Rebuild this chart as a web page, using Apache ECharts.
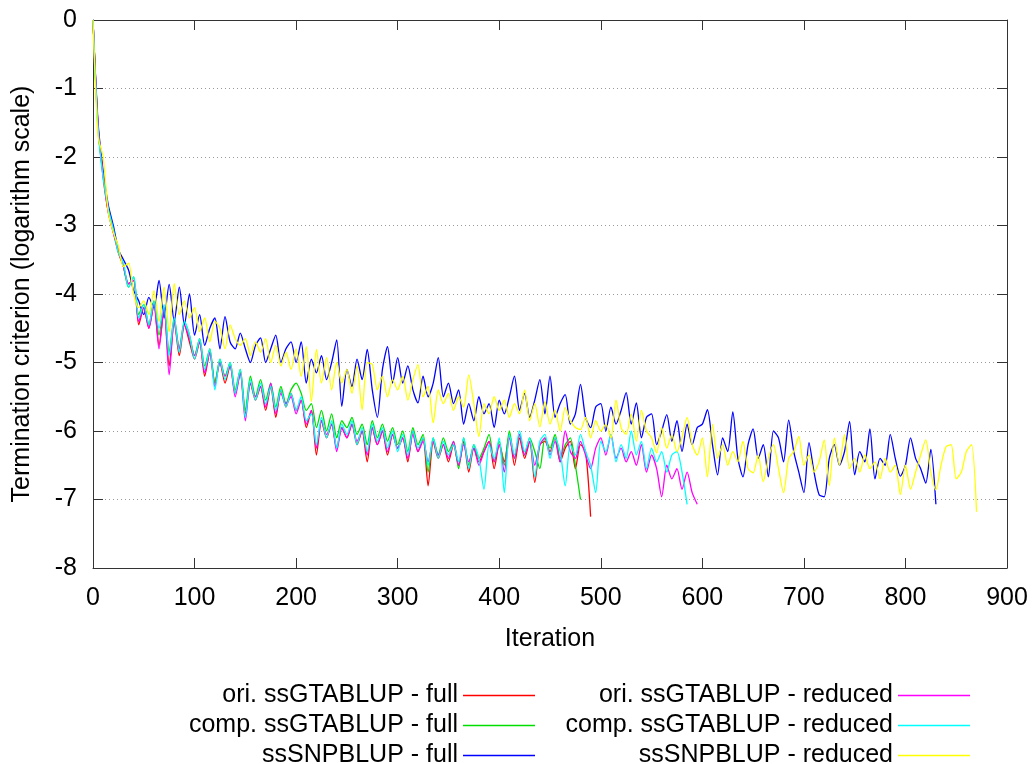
<!DOCTYPE html>
<html>
<head>
<meta charset="utf-8">
<title>Termination criterion</title>
<script src="https://cdn.jsdelivr.net/npm/echarts/dist/echarts.min.js"></script>
<style>
  html, body { margin: 0; padding: 0; background: #fff; }
  #chart { width: 1035px; height: 764px; }
</style>
</head>
<body>
<div id="chart"></div>
<script>
// iterations are sampled every STEP steps, value i sits at iteration i*STEP
const STEP = 5;

const seriesNames = [
  'ori. ssGTABLUP - full',
  'comp. ssGTABLUP - full',
  'ssSNPBLUP - full',
  'ori. ssGTABLUP - reduced',
  'comp. ssGTABLUP - reduced',
  'ssSNPBLUP - reduced'
];

// log10 of termination criterion
const oriFull = [
  0, -1.55, -2.3, -2.8, -3.1, -3.4, -3.6, -3.85, -3.8, -4.45,
  -4.2, -4.5, -4.15, -4.75, -4.2, -5.05, -4.4, -4.9, -4.45, -4.7,
  -4.95, -4.7, -5.2, -4.85, -5.3, -5.0, -5.3, -5.05, -5.45, -5.15,
  -5.75, -5.3, -5.55, -5.35, -5.7, -5.35, -5.8, -5.4, -5.65, -5.45,
  -5.7, -5.55, -5.95, -5.7, -6.35, -5.85, -6.1, -5.9, -6.25, -5.95,
  -6.1, -5.9, -6.2, -6.0, -6.45, -5.95, -6.2, -6.0, -6.35, -6.05,
  -6.25, -6.1, -6.45, -6.0, -6.3, -6.1, -6.8, -6.15, -6.4, -6.2,
  -6.45, -6.2, -6.5, -6.15, -6.6, -6.25, -6.45, -6.3, -6.15, -6.55,
  -6.2, -6.45, -6.05, -6.5, -6.1, -6.4, -6.15, -6.75, -6.2, -6.15,
  -6.3, -6.1, -6.45, -6.25, -6.15, -6.55, -6.2, -6.3, -7.25
];

const compFull = [
  0, -1.6, -2.25, -2.75, -3.05, -3.35, -3.6, -3.9, -3.75, -4.3,
  -4.15, -4.45, -4.1, -4.6, -4.2, -4.85, -4.35, -4.8, -4.4, -4.6,
  -4.9, -4.65, -5.05, -4.8, -5.3, -4.95, -5.2, -5.0, -5.4, -5.1,
  -5.7, -5.2, -5.5, -5.25, -5.55, -5.3, -5.65, -5.35, -5.6, -5.4,
  -5.3, -5.45, -5.7, -5.6, -5.95, -5.7, -6.0, -5.75, -6.1, -5.85,
  -5.95, -5.8, -6.05, -5.9, -6.2, -5.85, -6.1, -5.9, -6.15, -5.95,
  -6.2, -6.0, -6.3, -5.95, -6.2, -6.05, -6.6, -6.1, -6.35, -6.1,
  -6.3, -6.15, -6.55, -6.1, -6.5, -6.2, -6.4, -6.25, -6.05, -6.45,
  -6.15, -6.5, -6.0, -6.4, -6.05, -6.35, -6.1, -6.3, -6.55, -6.1,
  -6.25, -6.05, -6.4, -6.2, -6.1, -6.5, -7.0
];

const snpFull = [
  0, -1.5, -2.2, -2.7, -3.0, -3.35, -3.5, -3.65, -3.95, -4.1,
  -4.3, -4.05, -4.2, -3.8, -4.35, -3.86, -4.4, -3.9, -4.45, -4.0,
  -4.6, -4.3, -4.75, -4.5, -4.35, -4.8, -4.33, -4.7, -4.8, -4.57,
  -4.8, -5.0, -4.75, -4.64, -5.0, -4.8, -4.6, -5.0, -4.8, -4.7,
  -5.0, -4.7, -5.3, -4.95, -5.15, -4.9, -5.25, -5.0, -4.67, -5.64,
  -5.1, -5.35, -4.95, -5.25, -4.81, -5.4, -5.8, -5.1, -4.77, -5.3,
  -4.93, -5.3, -5.05, -5.4, -5.59, -5.2, -5.5, -5.3, -4.93, -5.5,
  -5.3, -5.6, -5.4, -5.9, -5.6, -5.85, -5.5, -5.75, -5.6, -5.95,
  -5.55, -5.75, -5.5, -5.2, -5.7, -5.45, -5.8, -5.55, -5.25, -5.75,
  -5.2, -5.8, -5.6, -5.47, -5.9, -5.75, -5.32, -5.8, -5.95, -5.65,
  -5.6, -6.0, -5.65, -5.9, -5.7, -5.44, -5.9, -5.59, -6.1, -5.8,
  -5.75, -6.2, -6.0, -5.76, -6.15, -5.85, -6.3, -5.9, -6.2, -5.95,
  -5.9, -5.69, -6.2, -6.64, -6.1, -6.3, -5.72, -6.4, -6.67, -6.2,
  -5.97, -6.4, -6.2, -6.67, -6.0, -6.1, -6.45, -5.84, -6.3, -6.6,
  -6.9, -6.17, -6.6, -6.93, -6.96, -6.4, -6.2, -6.5, -6.3, -5.86,
  -6.64, -6.3, -6.45, -5.97, -6.7, -6.4, -6.5, -6.05, -6.4, -6.66,
  -6.5, -6.1, -6.4, -6.55, -6.76, -6.27, -7.07
];

const oriReduced = [
  0, -1.55, -2.25, -2.8, -3.1, -3.35, -3.6, -3.85, -3.8, -4.4,
  -4.2, -4.5, -4.15, -4.8, -4.2, -5.18, -4.4, -4.8, -4.45, -4.65,
  -4.9, -4.7, -5.15, -4.85, -5.35, -5.0, -5.2, -5.05, -5.5, -5.15,
  -5.85, -5.3, -5.5, -5.35, -5.65, -5.3, -5.75, -5.45, -5.6, -5.5,
  -5.75, -5.55, -5.9, -5.7, -6.25, -5.85, -6.05, -5.9, -6.3, -5.95,
  -6.1, -5.9, -6.15, -6.0, -6.35, -5.95, -6.2, -6.0, -6.3, -6.05,
  -6.25, -6.1, -6.4, -6.05, -6.3, -6.15, -6.45, -6.15, -6.35, -6.2,
  -6.4, -6.15, -6.5, -6.2, -6.45, -6.25, -6.5, -6.3, -6.15, -6.45,
  -6.2, -6.6, -6.1, -6.4, -6.05, -6.35, -6.15, -6.5, -6.2, -6.1,
  -6.35, -6.15, -6.45, -6.0, -6.3, -6.4, -6.15, -6.35, -6.55, -6.25,
  -6.1, -6.35, -6.05, -6.4, -6.25, -6.45, -6.3, -6.5, -6.2, -6.6,
  -6.35, -6.55, -6.96, -6.5, -6.7, -6.55, -6.85, -6.6, -6.9, -7.07
];

const compReduced = [
  0, -1.6, -2.3, -2.75, -3.05, -3.4, -3.55, -3.9, -3.75, -4.35,
  -4.15, -4.45, -4.1, -4.5, -4.15, -4.9, -4.35, -4.85, -4.4, -4.6,
  -4.95, -4.65, -5.1, -4.8, -5.4, -4.95, -5.25, -5.0, -5.45, -5.1,
  -5.8, -5.25, -5.55, -5.3, -5.6, -5.35, -5.7, -5.4, -5.65, -5.45,
  -5.7, -5.5, -5.85, -5.75, -6.2, -5.8, -6.1, -5.85, -6.25, -5.9,
  -6.05, -5.85, -6.2, -5.95, -6.3, -5.9, -6.15, -5.95, -6.25, -6.0,
  -6.3, -6.05, -6.35, -6.0, -6.25, -6.1, -6.5, -6.1, -6.4, -6.15,
  -6.35, -6.2, -6.45, -6.1, -6.55, -6.2, -6.4, -6.85, -6.2, -6.4,
  -6.1, -6.9, -6.05, -6.35, -6.0, -6.3, -6.1, -6.67, -6.15, -6.05,
  -6.4, -6.1, -6.3, -6.8, -6.2, -6.35, -6.05, -6.3, -6.5, -6.9,
  -6.15, -6.3, -6.05, -6.45, -6.2, -6.4, -6.0, -6.35, -6.15, -6.55,
  -6.25, -6.45, -6.3, -6.6, -6.35, -6.3, -6.6, -7.07
];

const snpReduced = [
  0, -1.7, -2.0, -2.8, -3.1, -3.3, -3.6, -3.55, -4.0, -4.2,
  -4.1, -4.3, -3.95, -4.4, -3.9, -4.55, -3.85, -4.3, -4.1, -4.35,
  -4.2, -4.55, -4.35, -4.7, -4.4, -4.5, -4.8, -4.45, -4.65, -4.75,
  -4.65, -4.9, -4.7, -4.85, -4.65, -5.0, -4.75, -5.05, -4.85, -5.1,
  -4.8, -5.2, -4.77, -5.57, -4.81, -5.3, -4.93, -5.4, -5.0, -5.3,
  -5.1, -5.45, -5.05, -5.69, -5.0, -5.03, -5.4, -5.2, -5.5, -5.25,
  -5.4, -5.2, -5.55, -5.25, -5.03, -5.5, -5.35, -5.88, -5.4, -5.6,
  -5.45, -5.7, -5.5, -5.65, -5.18, -5.6, -6.08, -5.6, -5.75, -5.5,
  -5.7, -5.55, -5.8, -5.6, -5.75, -5.4, -5.85, -5.6, -5.94, -5.57,
  -5.9, -5.7, -6.0, -5.66, -5.85, -5.95, -5.98, -5.8, -6.1, -5.85,
  -6.0, -5.9, -6.1, -5.55, -5.95, -6.05, -5.75, -6.15, -5.7, -6.0,
  -6.1, -6.32, -5.95, -6.25, -6.05, -6.3, -6.1, -5.8, -6.2, -6.35,
  -6.1, -6.67, -5.9, -6.4, -6.2, -6.5, -6.3, -6.45, -6.15, -6.55,
  -6.61, -6.35, -6.74, -6.4, -6.2, -6.55, -6.9, -6.4, -6.3, -6.08,
  -6.5, -6.35, -6.6, -6.45, -6.13, -6.8, -6.1, -6.5, -6.05, -6.55,
  -6.4, -6.6, -6.35, -6.55, -6.45, -6.7, -6.4, -6.6, -6.5, -6.93,
  -6.5, -6.85, -6.6, -6.35, -6.13, -6.6, -6.86, -6.5, -6.23, -6.2,
  -6.7, -6.6, -6.3, -6.2, -7.18
];

const allValues = [oriFull, compFull, snpFull, oriReduced, compReduced, snpReduced];
const colors = ['#ff0000', '#00dd00', '#0000ff', '#ff00ff', '#00ffff', '#ffff00'];

const FONT = 'Liberation Sans, Arial, sans-serif';
const FS = 25;
const frameColor = '#333';

function toPoints(vals) {
  return vals.map((v, i) => [i * STEP, v]);
}

const series = allValues.map((vals, k) => ({
  name: seriesNames[k],
  type: 'line',
  data: toPoints(vals),
  symbol: 'none',
  showSymbol: false,
  smooth: 0.25,
  lineStyle: { width: 1.3, color: colors[k] },
  itemStyle: { color: colors[k] }
}));

function legendBox(names, left, textWidth) {
  return {
    orient: 'vertical',
    left: left,
    top: 683,
    width: textWidth + 100,
    height: 120,
    padding: 0,
    align: 'right',
    icon: 'rect',
    itemWidth: 72,
    itemHeight: 1.5,
    itemGap: 5,
    selectedMode: false,
    data: names,
    formatter: '{t|{name}}',
    textStyle: {
      rich: {
        t: { width: textWidth, align: 'right', fontSize: FS, lineHeight: 25, fontFamily: FONT, color: '#000' }
      }
    }
  };
}

const chart = echarts.init(document.getElementById('chart'));
chart.setOption({
  animation: false,
  backgroundColor: '#fff',
  grid: { left: 93, right: 28, top: 20, bottom: 196, containLabel: false },
  legend: [
    legendBox(seriesNames.slice(0, 3), 178, 280),
    legendBox(seriesNames.slice(3), 553, 340)
  ],
  xAxis: [
    {
      type: 'value', min: 0, max: 900, interval: 100, position: 'bottom',
      name: 'Iteration', nameLocation: 'middle', nameGap: 59,
      nameTextStyle: { fontSize: FS, fontFamily: FONT, color: '#000' },
      axisLine: { onZero: false, lineStyle: { color: frameColor, width: 1 } },
      axisTick: { inside: true, length: 10, lineStyle: { color: frameColor } },
      axisLabel: { fontSize: FS, fontFamily: FONT, color: '#000', margin: 18 },
      splitLine: { show: false }
    },
    {
      type: 'value', min: 0, max: 900, interval: 100, position: 'top',
      axisLine: { onZero: false, lineStyle: { color: frameColor, width: 1 } },
      axisTick: { inside: true, length: 10, lineStyle: { color: frameColor } },
      axisLabel: { show: false },
      splitLine: { show: false }
    }
  ],
  yAxis: [
    {
      type: 'value', min: -8, max: 0, interval: 1, position: 'left',
      name: 'Termination criterion (logarithm scale)', nameLocation: 'middle', nameGap: 58,
      nameTextStyle: { fontSize: FS, fontFamily: FONT, color: '#000' },
      axisLine: { onZero: false, lineStyle: { color: frameColor, width: 1 } },
      axisTick: { inside: true, length: 10, lineStyle: { color: frameColor } },
      axisLabel: { fontSize: FS, fontFamily: FONT, color: '#000', margin: 16 },
      splitLine: { show: true, lineStyle: { color: '#999', width: 1, type: [1, 3] } }
    },
    {
      type: 'value', min: -8, max: 0, interval: 1, position: 'right',
      axisLine: { onZero: false, lineStyle: { color: frameColor, width: 1 } },
      axisTick: { inside: true, length: 10, lineStyle: { color: frameColor } },
      axisLabel: { show: false },
      splitLine: { show: false }
    }
  ],
  series: series
});
</script>
</body>
</html>
